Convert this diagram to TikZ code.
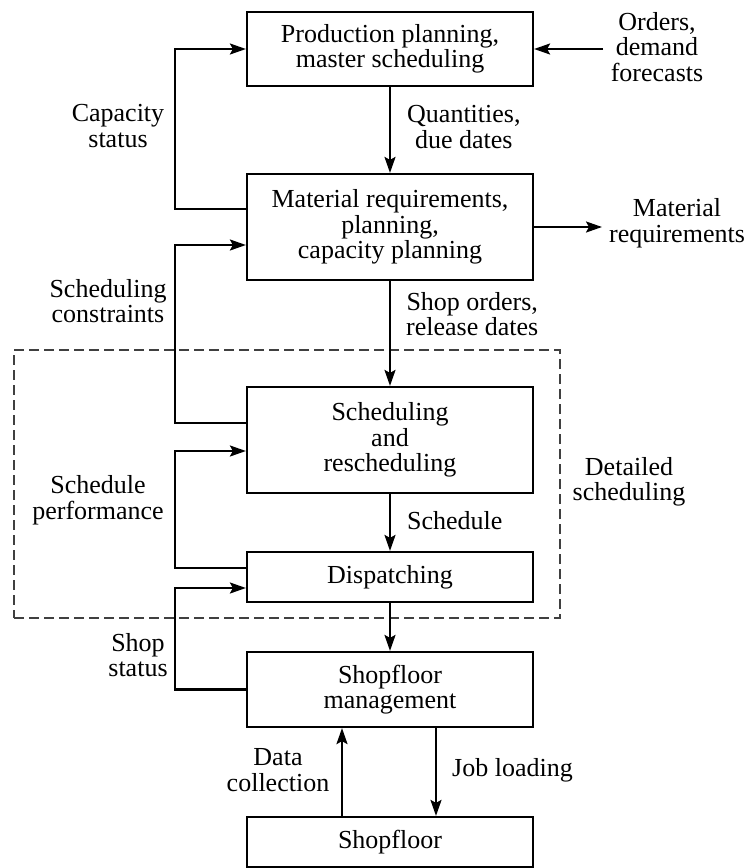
\documentclass[tikz,border=0pt]{standalone}
\usepackage{fontspec}
\setmainfont{Liberation Serif}
\usetikzlibrary{arrows.meta,calc}
\newcommand\diagfont{\fontsize{26}{25.5}\selectfont}
\begin{document}
\begin{tikzpicture}[x=1pt,y=-1pt,
  box/.style={draw,line width=2.2pt,minimum width=286pt,align=center,inner sep=0pt,font=\diagfont},
  lbl/.style={align=center,inner sep=0pt,font=\diagfont},
  arr/.style={line width=2.2pt,-{Stealth[length=16pt,width=11pt,inset=3pt]}},
  dashbox/.style={draw=black!75,line width=1.8pt,dash pattern=on 10pt off 5pt}]
\useasboundingbox (0,0) rectangle (748,868);
% dashed region
\node[dashbox,minimum width=546pt,minimum height=268pt,inner sep=0pt] (det) at (287,484) {};
% boxes
\node[box,minimum height=74pt] (pp) at (390,49) {Production planning,\\master scheduling};
\node[box,minimum height=106pt] (mr) at (390,227) {Material requirements,\\planning,\\capacity planning};
\node[box,minimum height=106pt] (sr) at (390,440) {Scheduling\\and\\rescheduling};
\node[box,minimum height=50pt] (dp) at (390,577) {Dispatching};
\node[box,minimum height=75pt] (sfm) at (390,689.5) {Shopfloor\\management};
\node[box,minimum height=50pt] (sf) at (390,842) {Shopfloor};
% labels
\node[lbl] (orders) at (657,47) {Orders,\\demand\\forecasts};
\node[lbl] (matreq) at (677,223) {Material\\requirements};
\node[lbl] (capst) at (118,126) {Capacity\\status};
\node[lbl,anchor=west] (qty) at (407,127) {Quantities,\\due dates};
\node[lbl] (schcon) at (108,301) {Scheduling\\constraints};
\node[lbl,anchor=west] (shopord) at (406,314) {Shop orders,\\release dates};
\node[lbl] (schperf) at (98,500) {Schedule\\performance};
\node[lbl,anchor=west] (sched) at (407,521) {Schedule};
\node[lbl] (detl) at (629,482) {Detailed\\scheduling};
\node[lbl] (shopst) at (138,655) {Shop\\status};
\node[lbl] (datac) at (278,770) {Data\\collection};
\node[lbl,anchor=west] (jobl) at (452,770) {Job loading};
% free ends
\coordinate (oin) at (603,49);
\coordinate (mout) at (602,227);
% main flow
\draw[arr] (pp.south) -- (mr.north);
\draw[arr] (mr.south) -- (sr.north);
\draw[arr] (sr.south) -- (dp.north);
\draw[arr] (dp.south) -- (sfm.north);
\draw[arr] ([xshift=46pt]sfm.south) -- ([xshift=46pt]sf.north);
\draw[arr] ([xshift=-48pt]sf.north) -- ([xshift=-48pt]sfm.south);
\draw[arr] (oin) -- (pp.east);
\draw[arr] (mr.east) -- (mout);
% feedback loops
\draw[arr] ([yshift=18pt]mr.west) -- ++(-71,0) |- (pp.west);
\draw[arr] ([yshift=17pt]sr.west) -- ++(-71,0) |- ([yshift=-18pt]mr.west);
\draw[arr] ([yshift=9pt]dp.west) -- ++(-71,0) |- ([yshift=-11pt]sr.west);
\draw[arr] (sfm.west) -- ++(-71,0) |- ([yshift=-11pt]dp.west);
\end{tikzpicture}
\end{document}
